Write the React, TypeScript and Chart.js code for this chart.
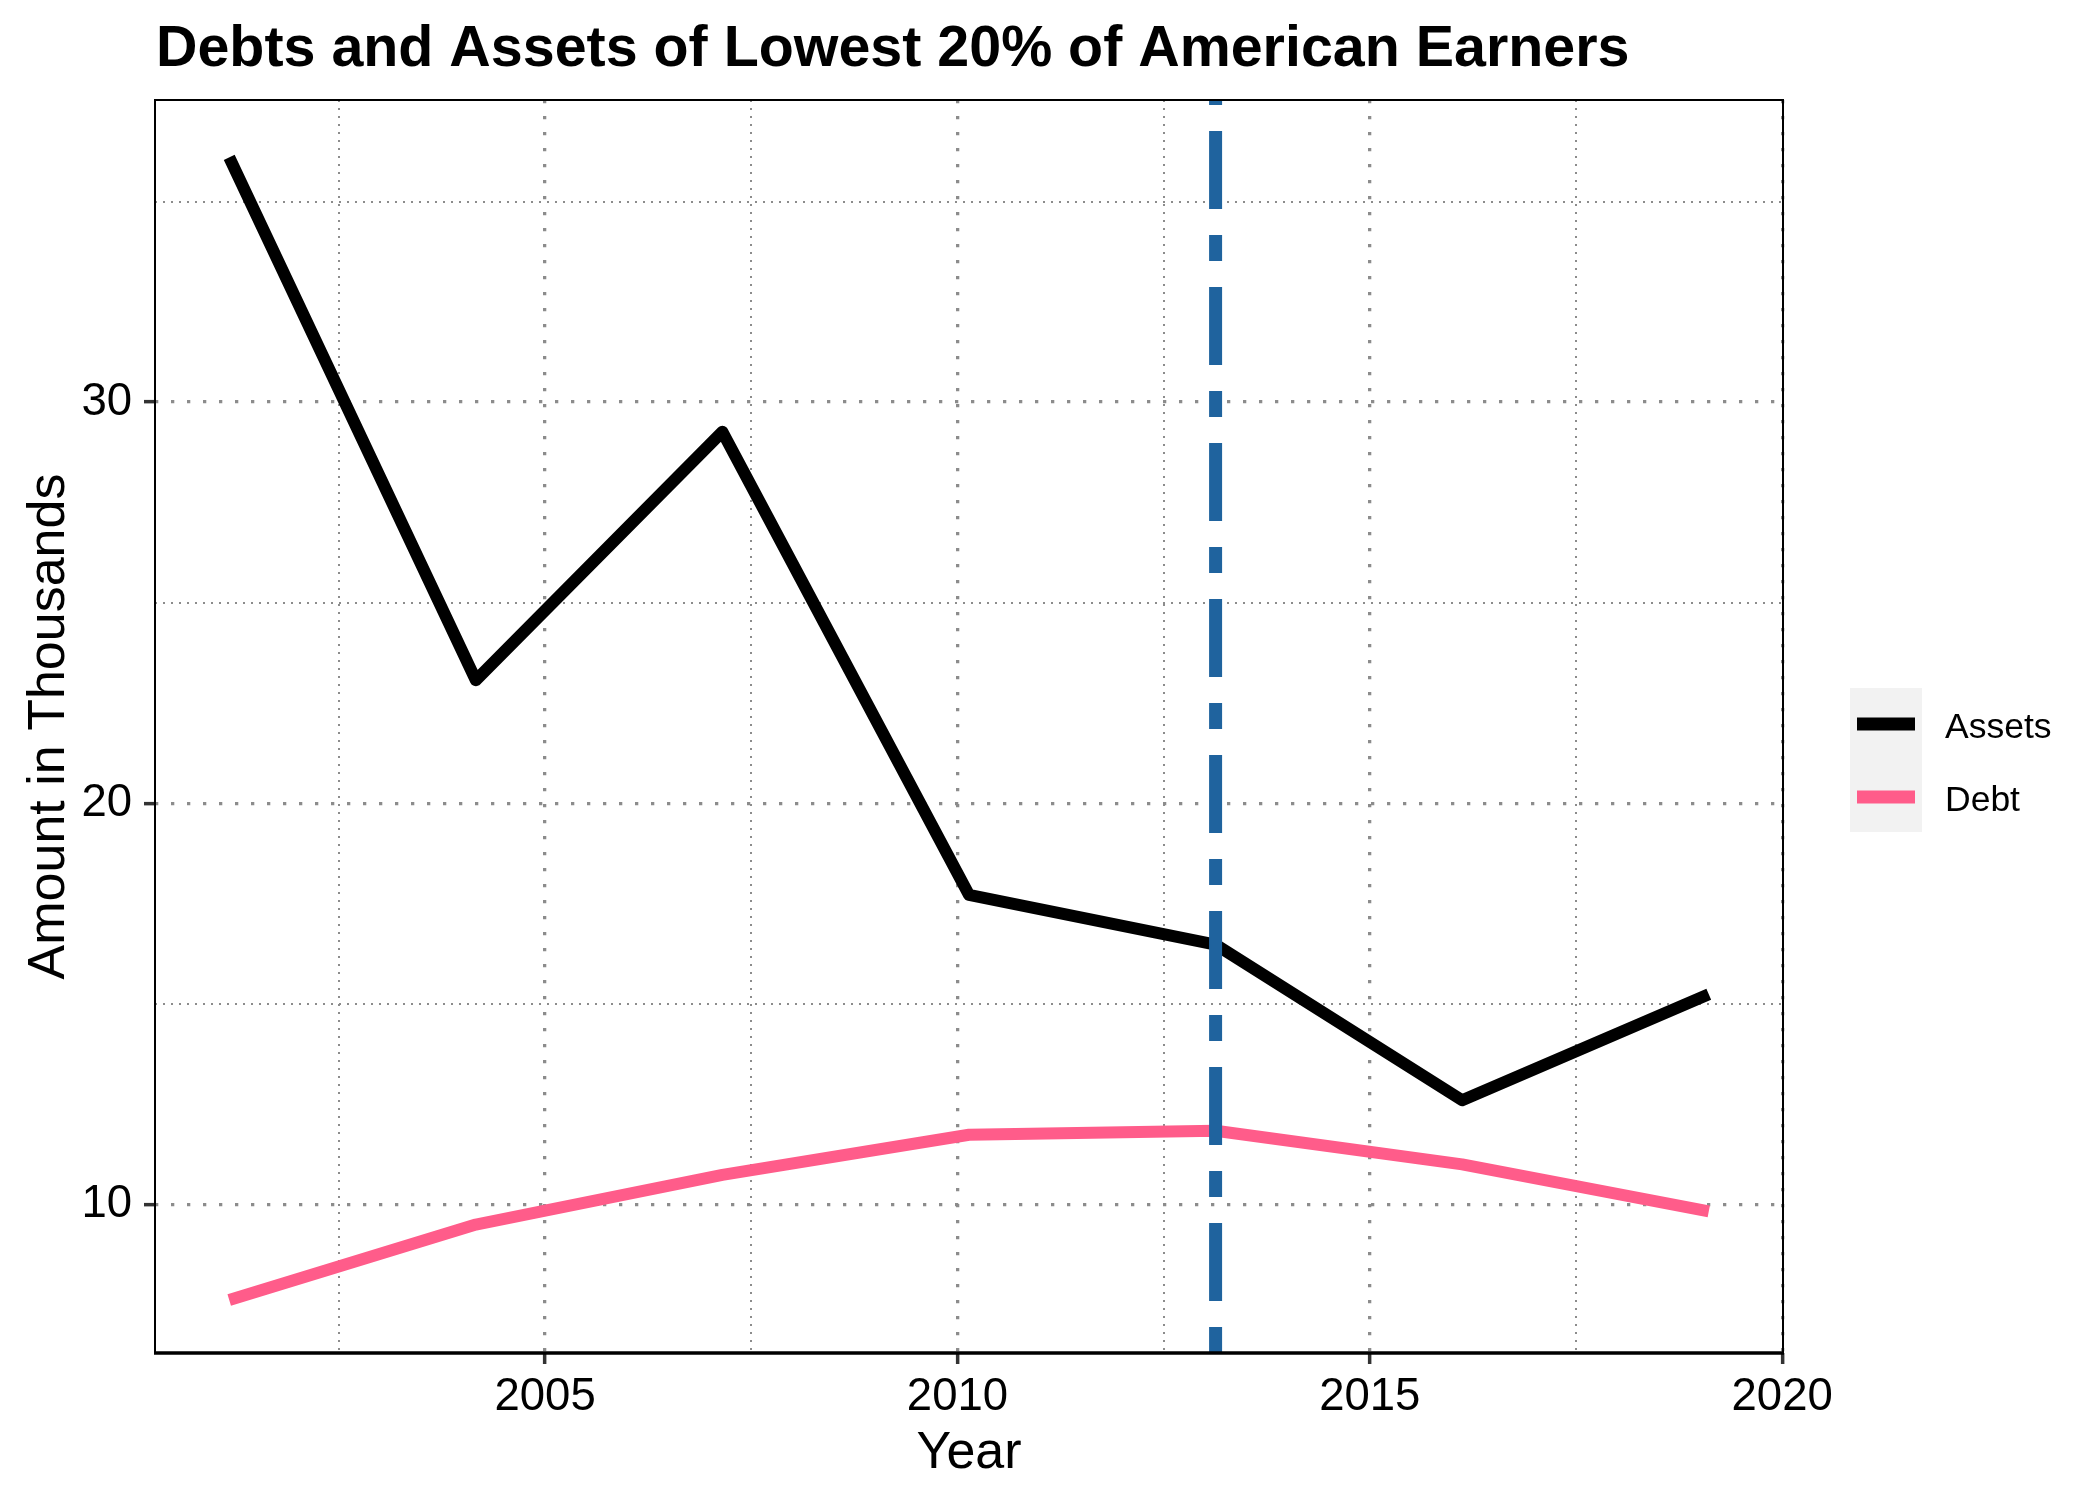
import React, { useEffect, useRef } from 'react';
import { Chart, registerables } from 'chart.js';

Chart.register(...registerables);

// ---- data ----
const years = [2001.17, 2004.16, 2007.15, 2010.14, 2013.13, 2016.12, 2019.11];
const assets = [36.1, 23.07, 29.26, 17.72, 16.48, 12.6, 15.24];
const debt = [7.62, 9.5, 10.74, 11.74, 11.84, 11.0, 9.83];
const seriesNames = ['Assets', 'Debt'];
const vlineYear = 2013.13;
const xMajorTicks = [2005, 2010, 2015, 2020];
const xMinorTicks = [2002.5, 2007.5, 2012.5, 2017.5];
const yMajorTicks = [10, 20, 30];
const yMinorTicks = [15, 25, 35];
const xLimits = [2000.27, 2020.01];
const yLimits = [6.3, 37.53];
const titleText = 'Debts and Assets of Lowest 20% of American Earners';
const xTitle = 'Year';
const yTitle = 'Amount in Thousands';

const FONT = '"Liberation Sans", Arial, Helvetica, sans-serif';
const GRID_COLOR = '#8c8c8c';
const COLORS = ['#000000', '#ff5c8a'];
const VLINE_COLOR = '#1f639e';

const near = (list: number[], v: number) => list.some((t) => Math.abs(t - v) < 1e-6);

export default function App() {
  const ref = useRef<HTMLCanvasElement>(null);

  useEffect(() => {
    document.body.style.margin = '0';
    const canvas = ref.current!;

    const gridWidth = (list: number[]) => (c: any) =>
      c.tick && near(list, c.tick.value) ? 3.3 : 2;
    const gridDash = (list: number[]) => (c: any) =>
      c.tick && near(list, c.tick.value) ? [3.3, 12.7] : [2, 6];
    const tickCol = (list: number[]) => (c: any) =>
      c.tick && near(list, c.tick.value) ? '#333333' : 'rgba(0,0,0,0)';

    const overlay = {
      id: 'overlay',
      afterDatasetsDraw(chart: any) {
        const { ctx, chartArea: a, scales } = chart;
        const x = scales.x.getPixelForValue(vlineYear);
        ctx.save();
        ctx.strokeStyle = VLINE_COLOR;
        ctx.lineWidth = 13;
        ctx.lineCap = 'butt';
        ctx.setLineDash([26, 26, 78, 26]);
        ctx.beginPath();
        ctx.moveTo(x, a.bottom);
        ctx.lineTo(x, a.top);
        ctx.stroke();
        ctx.setLineDash([]);
        ctx.strokeStyle = '#000';
        ctx.lineWidth = 2;
        ctx.strokeRect(a.left, a.top, a.right - a.left, a.bottom - a.top);
        ctx.lineWidth = 3.5;
        ctx.beginPath();
        ctx.moveTo(a.left - 1, a.bottom);
        ctx.lineTo(a.right + 1, a.bottom);
        ctx.stroke();
        ctx.restore();
      },
      afterDraw(chart: any) {
        const { ctx, chartArea: a } = chart;
        ctx.save();
        ctx.fillStyle = '#000';
        // title
        ctx.font = `bold 57.4px ${FONT}`;
        ctx.textAlign = 'left';
        ctx.textBaseline = 'alphabetic';
        ctx.fillText(titleText, a.left + 1, 66);
        // x title
        ctx.font = `52px ${FONT}`;
        ctx.textAlign = 'center';
        ctx.fillText(xTitle, (a.left + a.right) / 2, 1468);
        // y title
        ctx.save();
        ctx.translate(64, (a.top + a.bottom) / 2);
        ctx.rotate(-Math.PI / 2);
        ctx.fillText(yTitle, 0, 0);
        ctx.restore();
        // legend
        const bx = 1850;
        const by = 688;
        ctx.fillStyle = '#f2f2f2';
        ctx.fillRect(bx, by, 72, 144);
        chart.data.datasets.forEach((ds: any, i: number) => {
          const cy = by + 36 + i * 73;
          ctx.strokeStyle = ds.borderColor;
          ctx.lineWidth = 13;
          ctx.lineCap = 'butt';
          ctx.beginPath();
          ctx.moveTo(bx + 7, cy);
          ctx.lineTo(bx + 65, cy);
          ctx.stroke();
          ctx.fillStyle = '#000';
          ctx.font = `35.5px ${FONT}`;
          ctx.textAlign = 'left';
          ctx.textBaseline = 'alphabetic';
          ctx.fillText(ds.label, bx + 95, cy + 14);
        });
        ctx.restore();
      },
    };

    const chart = new Chart(canvas, {
      type: 'line',
      data: {
        datasets: [assets, debt].map((vals, i) => ({
          label: seriesNames[i],
          data: years.map((x, j) => ({ x, y: vals[j] })),
          borderColor: COLORS[i],
          backgroundColor: COLORS[i],
          borderWidth: 12,
          borderJoinStyle: 'round',
          borderCapStyle: 'butt',
          pointRadius: 0,
          tension: 0,
          fill: false,
        })),
      },
      options: {
        animation: false,
        responsive: true,
        maintainAspectRatio: false,
        devicePixelRatio: 1,
        layout: { padding: { left: 0, right: 317, top: 100, bottom: 0 } },
        plugins: {
          legend: { display: false },
          title: { display: false },
          tooltip: { enabled: false },
        },
        scales: {
          x: {
            type: 'linear',
            min: xLimits[0],
            max: xLimits[1],
            afterBuildTicks: (s: any) => {
              s.ticks = [...xMinorTicks, ...xMajorTicks]
                .sort((p, q) => p - q)
                .map((value) => ({ value }));
            },
            afterFit: (s: any) => {
              s.height = 147;
            },
            ticks: {
              autoSkip: false,
              maxRotation: 0,
              minRotation: 0,
              padding: 6,
              color: '#000',
              font: { family: FONT, size: 45.5 },
              callback: (v: any) => (near(xMajorTicks, Number(v)) ? String(v) : ''),
            },
            grid: {
              color: GRID_COLOR,
              lineWidth: gridWidth(xMajorTicks),
              drawTicks: true,
              tickLength: 11,
              tickWidth: 3.5,
              tickColor: tickCol(xMajorTicks),
            },
            border: { display: false, dash: gridDash(xMajorTicks) },
          },
          y: {
            type: 'linear',
            min: yLimits[0],
            max: yLimits[1],
            afterBuildTicks: (s: any) => {
              s.ticks = [...yMajorTicks, ...yMinorTicks]
                .sort((p, q) => p - q)
                .map((value) => ({ value }));
            },
            afterFit: (s: any) => {
              s.width = 155;
            },
            ticks: {
              autoSkip: false,
              padding: 12,
              color: '#000',
              font: { family: FONT, size: 45.5 },
              callback: (v: any) => (near(yMajorTicks, Number(v)) ? String(v) : ''),
            },
            grid: {
              color: GRID_COLOR,
              lineWidth: gridWidth(yMajorTicks),
              drawTicks: true,
              tickLength: 11,
              tickWidth: 3.5,
              tickColor: tickCol(yMajorTicks),
            },
            border: { display: false, dash: gridDash(yMajorTicks) },
          },
        },
      } as any,
      plugins: [overlay],
    });

    return () => chart.destroy();
  }, []);

  return (
    <div
      style={{
        position: 'absolute',
        left: 0,
        top: 0,
        width: 2100,
        height: 1500,
        background: '#ffffff',
      }}
    >
      <canvas ref={ref} />
    </div>
  );
}
